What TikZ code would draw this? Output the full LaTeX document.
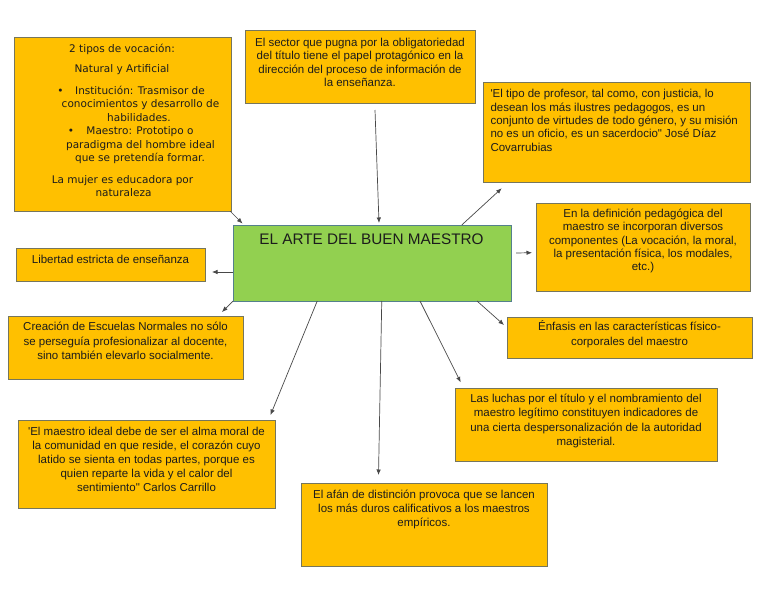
\documentclass[tikz,border=0pt]{standalone}
\usepackage{fontspec}
\setmainfont{Liberation Sans}
\newfontfamily\dejavu{DejaVu Sans}
\usetikzlibrary{arrows.meta}
\definecolor{boxor}{RGB}{255,192,0}
\definecolor{boxline}{RGB}{118,118,92}
\definecolor{grn}{RGB}{146,208,80}
\definecolor{grnline}{RGB}{84,128,140}
\definecolor{txtc}{RGB}{28,28,28}
\definecolor{arrc}{RGB}{72,72,72}
\tikzset{
  obox/.style={draw=boxline, fill=boxor, line width=1pt, inner sep=0pt, outer sep=0pt},
  gbox/.style={draw=grnline, fill=grn, line width=1pt, inner sep=0pt, outer sep=0pt},
  mtxt/.style={inner sep=0pt, outer sep=0pt, text=txtc, align=center},
  ltxt/.style={inner sep=0pt, outer sep=0pt, text=txtc, font=\fontsize{11.5}{13.5}\selectfont},
  dtxt/.style={inner sep=0pt, outer sep=0pt, text=txtc, font=\dejavu\fontsize{10.5}{13}\selectfont, anchor=base},
  arr/.style={draw=arrc, line width=0.7pt, -{Latex[length=5.5pt,width=4.5pt]}}
}
\begin{document}
\begin{tikzpicture}[x=1pt,y=-1pt]
\useasboundingbox (0,0) rectangle (768,594);
\fill[white] (0,0) rectangle (768,594);

% boxes
\node[obox, minimum width=217pt, minimum height=173pt] (b1) at (122.5,124.5) {};
\node[obox, minimum width=230pt, minimum height=72pt] (b2) at (360,67) {};
\node[obox, minimum width=267pt, minimum height=100pt] (b3) at (616.5,132) {};
\node[obox, minimum width=214pt, minimum height=88pt] (b4) at (643,247) {};
\node[gbox, minimum width=278.5pt, minimum height=76pt] (green) at (372.25,263) {};
\node[obox, minimum width=189pt, minimum height=33pt] (lib) at (110.5,264.5) {};
\node[obox, minimum width=235pt, minimum height=63pt] (crea) at (125.5,347.5) {};
\node[obox, minimum width=245pt, minimum height=41pt] (enf) at (629.5,337.5) {};
\node[obox, minimum width=262pt, minimum height=73pt] (luch) at (586,424.5) {};
\node[obox, minimum width=257pt, minimum height=88pt] (mi) at (146.5,464) {};
\node[obox, minimum width=246pt, minimum height=83pt] (afan) at (424,524.5) {};

% box 1 text (DejaVu Sans)
\node[dtxt] (t1) at (122,52.1) {2 tipos de vocación:};
\node[dtxt] (t2) at (122,72.8) {Natural y Artificial};
\node[dtxt] (bu1) at (60.5,94.5) {\textbullet};
\node[dtxt] (t3) at (140,94.5) {Institución: Trasmisor de};
\node[dtxt] (t4) at (140.5,107.8) {conocimientos y desarrollo de};
\node[dtxt] (t5) at (139,121.1) {habilidades.};
\node[dtxt] (bu2) at (71,134.5) {\textbullet};
\node[dtxt] (t6) at (140,134.5) {Maestro: Prototipo o};
\node[dtxt] (t7) at (140.5,148.8) {paradigma del hombre ideal};
\node[dtxt] (t8) at (140,161.5) {que se pretendía formar.};
\node[dtxt] (t9) at (122.5,183.1) {La mujer es educadora por};
\node[dtxt] (t10) at (123.5,196.5) {naturaleza};

% other texts
\node[mtxt, anchor=north, font=\fontsize{11.5}{13.3}\selectfont] (b2t) at (360,38.3)
  {El sector que pugna por la obligatoriedad\\del título tiene el papel protagónico en la\\dirección del proceso de información de\\la enseñanza.};
\node[mtxt, anchor=north west, align=left, font=\fontsize{11.5}{13.3}\selectfont] (b3t) at (490.5,89.6)
  {\textquotesingle El tipo de profesor, tal como, con justicia, lo\\desean los más ilustres pedagogos, es un\\conjunto de virtudes de todo género, y su misión\\no es un oficio, es un sacerdocio\textquotedbl{} José Díaz\\Covarrubias};
\node[mtxt, anchor=north, font=\fontsize{11.5}{13.3}\selectfont] (b4t) at (643,209)
  {En la definición pedagógica del\\maestro se incorporan diversos\\componentes (La vocación, la moral,\\la presentación física, los modales,\\etc.)};
\node[ltxt, anchor=base] (gt) at (371.5,244.5) {\fontsize{15.3}{18}\selectfont EL ARTE DEL BUEN MAESTRO};
\node[ltxt, anchor=base] (libt) at (110.5,263) {Libertad estricta de enseñanza};
\node[mtxt, anchor=north, font=\fontsize{11.5}{14.6}\selectfont] (creat) at (125.5,322.3)
  {Creación de Escuelas Normales no sólo\\se perseguía profesionalizar al docente,\\sino también elevarlo socialmente.};
\node[mtxt, anchor=north, font=\fontsize{11.5}{15}\selectfont] (enft) at (629.5,320.3)
  {Énfasis en las características físico-\\corporales del maestro};
\node[mtxt, anchor=north, font=\fontsize{11.5}{14.5}\selectfont] (lucht) at (586,393.6)
  {Las luchas por el título y el nombramiento del\\maestro legítimo constituyen indicadores de\\una cierta despersonalización de la autoridad\\magisterial.};
\node[mtxt, anchor=north, font=\fontsize{11.5}{13.9}\selectfont] (mit) at (146.5,427.3)
  {\textquotesingle El maestro ideal debe de ser el alma moral de\\la comunidad en que reside, el corazón cuyo\\latido se sienta en todas partes, porque es\\quien reparte la vida y el calor del\\sentimiento\textquotedbl{} Carlos Carrillo};
\node[mtxt, anchor=north, font=\fontsize{11.5}{14.3}\selectfont] (afant) at (424,489.6)
  {El afán de distinción provoca que se lancen\\los más duros calificativos a los maestros\\empíricos.};

% connectors
\draw[arr] ([xshift=-1pt]b1.south east) -- ([xshift=9.5pt,yshift=1.5pt]green.north west);
\draw[arr] ([xshift=15pt,yshift=-7pt]b2.south) -- ([xshift=6.75pt,yshift=2pt]green.north);
\draw[arr] ([xshift=89.5pt]green.north) -- ([xshift=18.7pt,yshift=-6.3pt]b3.south west);
\draw[arr] ([xshift=4.5pt,yshift=10pt]green.east) -- ([xshift=-4pt,yshift=-5.7pt]b4.west);
\draw[arr] ([yshift=-9pt]green.west) -- ([xshift=7pt,yshift=-7.5pt]lib.east);
\draw[arr] (green.south west) -- ([xshift=-21pt,yshift=4pt]crea.north east);
\draw[arr] ([xshift=-34.5pt]green.south east) -- ([xshift=-3pt,yshift=-8pt]enf.north west);
\draw[arr] ([xshift=-55pt]green.south) -- ([xshift=-4.5pt,yshift=5pt]mi.north east);
\draw[arr] ([xshift=9.5pt]green.south) -- ([xshift=-45.5pt,yshift=8pt]afan.north);
\draw[arr] ([xshift=47.75pt]green.south) -- ([xshift=5.7pt,yshift=5.7pt]luch.north west);
\end{tikzpicture}
\end{document}
